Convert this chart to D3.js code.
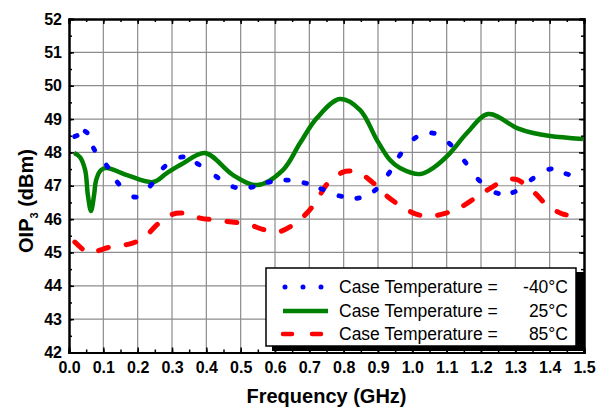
<!DOCTYPE html>
<html><head><meta charset="utf-8">
<script src="https://cdn.jsdelivr.net/npm/d3@7"></script>
<style>body{margin:0;background:#fff}svg{display:block}text{font-family:Arial,"Liberation Sans",sans-serif}</style>
</head><body><svg id="c" width="599" height="408"></svg>
<script>
const xTicks = [0,0.1,0.2,0.3,0.4,0.5,0.6,0.7,0.8,0.9,1.0,1.1,1.2,1.3,1.4,1.5];
const yTicks = [42,43,44,45,46,47,48,49,50,51,52];
const seriesNames = ["Case Temperature = ","Case Temperature = ","Case Temperature = "];
const seriesTemps = ["-40°C","25°C","85°C"];
const seriesColors = ["#0000ff","#008000","#ff0000"];

const freqM40 = [0.020,0.050,0.073,0.111,0.143,0.192,0.239,0.277,0.329,0.376,0.431,0.481,0.533,0.583,0.635,0.688,0.737,0.790,0.842,0.892,0.932,0.964,1.008,1.060,1.110,1.154,1.194,1.247,1.296,1.349,1.401,1.451];
const oipM40  = [48.49,48.61,48.10,47.59,47.08,46.66,47.02,47.56,47.86,47.65,47.26,46.96,46.96,47.11,47.17,47.08,46.90,46.69,46.63,46.87,47.38,47.92,48.43,48.58,48.25,47.71,47.17,46.78,46.81,47.20,47.50,47.35];

const freq25 = [0.015,0.032,0.047,0.055,0.064,0.073,0.079,0.093,0.111,0.169,0.245,0.285,0.329,0.396,0.478,0.548,0.623,0.673,0.722,0.789,0.848,0.897,0.935,0.964,1.023,1.060,1.110,1.159,1.221,1.305,1.352,1.401,1.497];
const oip25  = [47.98,47.86,47.47,46.72,46.24,46.72,47.17,47.47,47.53,47.32,47.11,47.38,47.65,47.98,47.32,47.02,47.47,48.28,49.03,49.60,49.27,48.37,47.77,47.53,47.35,47.53,47.98,48.58,49.15,48.73,48.58,48.49,48.40];

const freq85 = [0.017,0.052,0.070,0.090,0.131,0.175,0.216,0.262,0.303,0.326,0.350,0.382,0.431,0.475,0.521,0.562,0.606,0.647,0.693,0.722,0.754,0.798,0.818,0.842,0.883,0.926,0.967,1.011,1.054,1.098,1.136,1.183,1.223,1.270,1.290,1.308,1.357,1.392,1.439,1.483];
const oip85  = [45.31,45.01,45.00,45.07,45.19,45.25,45.43,45.88,46.15,46.18,46.15,46.03,45.97,45.91,45.85,45.70,45.61,45.79,46.18,46.57,47.08,47.41,47.44,47.41,47.11,46.69,46.39,46.15,46.09,46.18,46.33,46.63,46.90,47.17,47.20,47.17,46.78,46.42,46.15,46.09];

const svg = d3.select("#c");
const L=69, R=584, T=19, B=352.5;
const x = d3.scaleLinear().domain([0,1.5]).range([L,R]);
const y = d3.scaleLinear().domain([42,52]).range([B,T]);

// grid
const g = svg.append("g");
g.selectAll("line.gx").data(xTicks.slice(1,-1)).join("line")
  .attr("x1",d=>x(d)).attr("x2",d=>x(d)).attr("y1",T).attr("y2",B)
  .attr("stroke","#8c8c8c").attr("stroke-width",1.2);
g.selectAll("line.gy").data(yTicks.slice(1,-1)).join("line")
  .attr("y1",d=>y(d)).attr("y2",d=>y(d)).attr("x1",L).attr("x2",R)
  .attr("stroke","#8c8c8c").attr("stroke-width",1.2);

// axes with inward ticks
const minorX = d3.range(0,31).map(i=>i*0.05);
const minorY = d3.range(0,21).map(i=>42+i*0.5);
function ax(axisGen, tr){ return svg.append("g").attr("transform",tr).call(axisGen); }
const axB = ax(d3.axisBottom(x).tickValues(minorX).tickSize(-3).tickFormat(""), `translate(0,${B})`);
const axBM = ax(d3.axisBottom(x).tickValues(xTicks).tickSize(-5).tickPadding(9).tickFormat(d3.format(".1f")), `translate(0,${B})`);
const axT = ax(d3.axisTop(x).tickValues(minorX).tickSize(-3).tickFormat(""), `translate(0,${T})`);
const axTM = ax(d3.axisTop(x).tickValues(xTicks).tickSize(-5).tickFormat(""), `translate(0,${T})`);
const axL = ax(d3.axisLeft(y).tickValues(minorY).tickSize(-3).tickFormat(""), `translate(${L},0)`);
const axLM = ax(d3.axisLeft(y).tickValues(yTicks).tickSize(-5).tickPadding(7).tickFormat(d3.format("d")), `translate(${L},0)`);
const axR = ax(d3.axisRight(y).tickValues(minorY).tickSize(-3).tickFormat(""), `translate(${R},0)`);
const axRM = ax(d3.axisRight(y).tickValues(yTicks).tickSize(-5).tickFormat(""), `translate(${R},0)`);
svg.selectAll(".domain").attr("stroke","#000").attr("stroke-width",2);
svg.selectAll(".tick line").attr("stroke","#000").attr("stroke-width",1.5);
[axBM,axLM].forEach(a=>a.selectAll("text").attr("font-size",16).attr("font-weight","bold").attr("fill","#000")
  .attr("font-family","Arial,'Liberation Sans',sans-serif"));

// series
const lineGen = d3.line().x(d=>x(d[0])).y(d=>y(d[1])).curve(d3.curveCatmullRom.alpha(0.5));
const d25 = freq25.map((f,i)=>[f,oip25[i]]);
const d85 = freq85.map((f,i)=>[f,oip85[i]]);
const dM40 = freqM40.map((f,i)=>[f,oipM40[i]]);

svg.append("path").attr("d",lineGen(d85)).attr("fill","none").attr("stroke",seriesColors[2])
  .attr("stroke-width",5).attr("stroke-linecap","round").attr("stroke-dasharray","10,18");
svg.append("path").attr("d",lineGen(d25)).attr("fill","none").attr("stroke",seriesColors[1])
  .attr("stroke-width",4.5).attr("stroke-linejoin","round");
// blue dots: short strokes oriented along the curve
svg.append("g").selectAll("line").data(dM40).join("line")
  .each(function(d,i){
    const p0 = dM40[Math.max(0,i-1)], p1 = dM40[Math.min(dM40.length-1,i+1)];
    let dx = x(p1[0])-x(p0[0]), dy = y(p1[1])-y(p0[1]);
    const n = Math.hypot(dx,dy)||1; dx/=n; dy/=n;
    const cx = x(d[0]), cy = y(d[1]), h = 1.3;
    d3.select(this).attr("x1",cx-dx*h).attr("y1",cy-dy*h).attr("x2",cx+dx*h).attr("y2",cy+dy*h);
  })
  .attr("stroke",seriesColors[0]).attr("stroke-width",4.8).attr("stroke-linecap","round");

// legend
const lg = svg.append("g");
lg.append("rect").attr("x",272).attr("y",272).attr("width",312).attr("height",79).attr("fill","#000");
lg.append("rect").attr("x",266).attr("y",268).attr("width",310).attr("height",78).attr("fill","#fff").attr("stroke","#000").attr("stroke-width",1.5);
const rowsY = [287,311,334];
const dash = ["0,18","none","9,20"];
seriesNames.forEach((nm,i)=>{
  lg.append("line").attr("x1",i===0?285:283).attr("x2",i===0?322:328).attr("y1",rowsY[i]).attr("y2",rowsY[i])
    .attr("stroke",seriesColors[i]).attr("stroke-width",i===0?5:4.5)
    .attr("stroke-linecap",i===1?"butt":"round").attr("stroke-dasharray",dash[i]);
  lg.append("text").attr("x",339).attr("y",rowsY[i]+6).attr("font-size",17.5).attr("fill","#000").text(nm);
  lg.append("text").attr("x",568).attr("y",rowsY[i]+6).attr("font-size",17.5).attr("fill","#000").attr("text-anchor","end").text(seriesTemps[i]);
});

// axis titles
svg.append("text").attr("x",(L+R)/2).attr("y",403).attr("text-anchor","middle")
  .attr("font-size",20).attr("font-weight","bold").text("Frequency (GHz)");
const yt = svg.append("text").attr("transform","translate(33,201) rotate(-90)").attr("text-anchor","middle")
  .attr("font-size",20).attr("font-weight","bold");
yt.append("tspan").text("OIP");
yt.append("tspan").attr("font-size",11).attr("dy",5).text("3");
yt.append("tspan").attr("dy",-5).text(" (dBm)");
</script></body></html>
